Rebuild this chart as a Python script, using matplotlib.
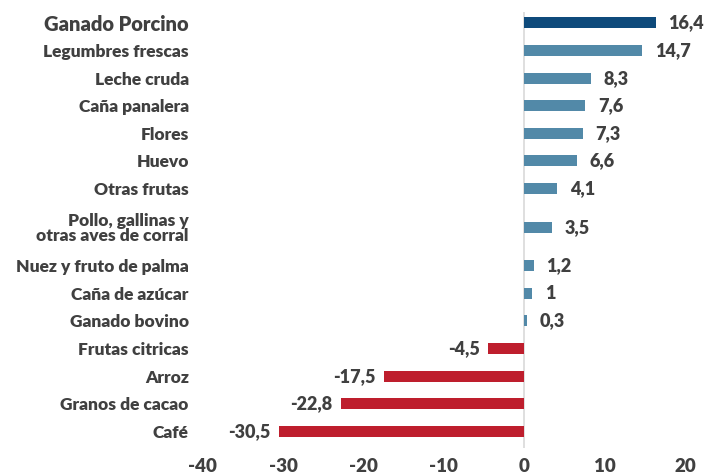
import matplotlib
matplotlib.use("Agg")
import matplotlib.pyplot as plt

# === Data ===
categories = [
    "Ganado Porcino", "Legumbres frescas", "Leche cruda", "Caña panalera",
    "Flores", "Huevo", "Otras frutas", "Pollo, gallinas y\notras aves de corral",
    "Nuez y fruto de palma", "Caña de azúcar", "Ganado bovino",
    "Frutas citricas", "Arroz", "Granos de cacao", "Café",
]
values = [16.4, 14.7, 8.3, 7.6, 7.3, 6.6, 4.1, 3.5, 1.2, 1.0, 0.3,
          -4.5, -17.5, -22.8, -30.5]
xticks = [-40, -30, -20, -10, 0, 10, 20]

TEXT = "#404040"
W = "heavy"
plt.rcParams["font.family"] = ["Lato", "DejaVu Sans"]
plt.rcParams["font.weight"] = W

# extra room around the two-line label
ypos = []
for i, c in enumerate(categories):
    extra = 0.0
    if i == 7:
        extra = 0.4
    elif i > 7:
        extra = 0.8
    ypos.append(i + extra)

colors = []
for i, v in enumerate(values):
    if i == 0:
        colors.append("#0e4a7b")
    elif v >= 0:
        colors.append("#5289a8")
    else:
        colors.append("#be1e2d")

fig = plt.figure(figsize=(7.04, 4.76), dpi=100)
ax = fig.add_axes([0.288, 0.059, 0.685, 0.916])

ax.barh(ypos, values, height=0.4, color=colors, edgecolor="none")
ax.axvline(0, color="#d9d9d9", lw=1.2, zorder=0)

for y, v in zip(ypos, values):
    lab = f"{v:g}".replace(".", ",")
    if v >= 0:
        ax.annotate(lab, (v, y), xytext=(9, 0), textcoords="offset points",
                    ha="left", va="center", fontsize=13, color=TEXT, fontweight=W)
    else:
        ax.annotate(lab, (v, y), xytext=(-6, 0), textcoords="offset points",
                    ha="right", va="center", fontsize=13, color=TEXT, fontweight=W)

ax.set_xlim(-40, 20)
ax.set_ylim(15.4, -0.4)
ax.set_xticks(xticks)
ax.set_xticklabels([str(t) for t in xticks], fontsize=13.5, color=TEXT, fontweight=W)
ax.set_yticks(ypos)
ax.set_yticklabels(categories, fontsize=12.5, color=TEXT, fontweight=W,
                   linespacing=0.95)
ax.get_yticklabels()[0].set_fontsize(14.5)
ax.tick_params(axis="both", length=0)
ax.tick_params(axis="y", pad=10)
ax.tick_params(axis="x", pad=7)
for s in ax.spines.values():
    s.set_visible(False)

plt.savefig("out.png", dpi=100)
plt.close()
